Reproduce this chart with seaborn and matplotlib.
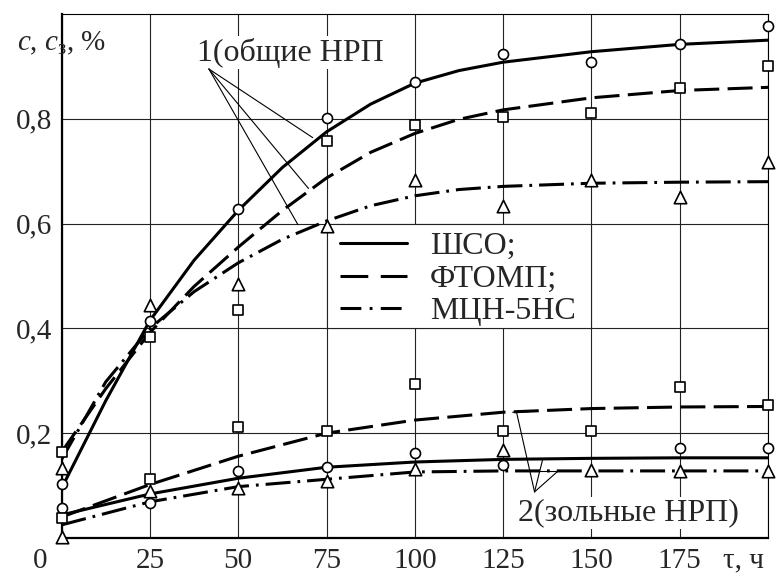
import matplotlib
matplotlib.use("Agg")
import matplotlib.pyplot as plt
import matplotlib.transforms as mtransforms
from matplotlib.lines import Line2D
from matplotlib.patches import Rectangle
import seaborn as sns

# time, h
t_pts = [0, 25, 50, 75, 100, 125, 150, 175, 200]
t_fit1 = [0, 12.5, 25, 37.5, 50, 62.5, 75, 87.5, 100, 112.5, 125, 150, 175, 200]
t_fit2 = [0, 25, 50, 75, 100, 125, 150, 175, 200]

# 1 - total NRP (measured points)
sho_1 = [0.103, 0.415, 0.628, 0.802, 0.870, 0.924, 0.909, 0.943, 0.977]
ftomp_1 = [0.164, 0.383, 0.436, 0.758, 0.789, 0.804, 0.811, 0.859, 0.901]
mcn_1 = [0.133, 0.444, 0.484, 0.596, 0.684, 0.634, 0.684, 0.650, 0.718]

# 1 - fitted curves
sho_1_fit = [0.095, 0.262, 0.415, 0.530, 0.625, 0.707, 0.775, 0.828, 0.868, 0.892, 0.908, 0.928, 0.942, 0.950]
ftomp_1_fit = [0.164, 0.285, 0.392, 0.480, 0.555, 0.625, 0.687, 0.736, 0.772, 0.799, 0.817, 0.840, 0.854, 0.860]
mcn_1_fit = [0.150, 0.298, 0.400, 0.470, 0.525, 0.570, 0.605, 0.634, 0.653, 0.665, 0.671, 0.677, 0.679, 0.680]

# 2 - ash NRP (measured points)
sho_2 = [0.057, 0.067, 0.128, 0.135, 0.162, 0.139, None, 0.171, 0.171]
ftomp_2 = [0.038, 0.112, 0.211, 0.204, 0.293, 0.204, 0.204, 0.288, 0.253]
mcn_2 = [0.002, 0.089, 0.095, 0.109, 0.131, 0.168, 0.130, 0.128, 0.128]

# 2 - fitted curves
sho_2_fit = [0.044, 0.084, 0.114, 0.135, 0.145, 0.150, 0.152, 0.153, 0.153]
ftomp_2_fit = [0.040, 0.102, 0.156, 0.200, 0.225, 0.240, 0.247, 0.250, 0.251]
mcn_2_fit = [0.025, 0.069, 0.098, 0.112, 0.126, 0.128, 0.128, 0.128, 0.128]

names = ["ШСО;", "ФТОМП;", "МЦН-5НС"]
x_ticks = [0, 25, 50, 75, 100, 125, 150, 175, 200]
x_labels = ["0", "25", "50", "75", "100", "125", "150", "175", "τ, ч"]
y_labels = ["0,2", "0,4", "0,6", "0,8"]

sns.set_theme(style="white")
plt.rcParams["font.family"] = ["Liberation Serif", "DejaVu Serif"]
plt.rcParams["mathtext.fontset"] = "custom"
plt.rcParams["mathtext.rm"] = "Liberation Serif"
plt.rcParams["mathtext.it"] = "Liberation Serif:italic"
plt.rcParams["lines.scale_dashes"] = False

styles = ["-", (0, (18, 6)), (0, (18, 5, 2, 5))]
markers = [("o", 52), ("s", 58), ("^", 80)]

fig = plt.figure(figsize=(7.76, 5.73), dpi=100)
ax = fig.add_axes([0.0794, 0.0611, 0.9103, 0.9145])

curves = [
    (t_fit1, [sho_1_fit, ftomp_1_fit, mcn_1_fit]),
    (t_fit2, [sho_2_fit, ftomp_2_fit, mcn_2_fit]),
]
for tt, group in curves:
    for vals, ls in zip(group, styles):
        sns.lineplot(x=tt, y=vals, ax=ax, color="black", lw=2.2,
                     linestyle=ls, zorder=3, legend=False)

points = [[sho_1, ftomp_1, mcn_1], [sho_2, ftomp_2, mcn_2]]
for group in points:
    for vals, (m, s) in zip(group, markers):
        xs = [t for t, v in zip(t_pts, vals) if v is not None]
        ys = [v for v in vals if v is not None]
        sns.scatterplot(x=xs, y=ys, ax=ax, marker=m, s=s, color="white",
                        edgecolor="black", linewidth=1.2, clip_on=False,
                        zorder=5, legend=False)

ax.set_xlim(0, 200)
ax.set_ylim(0, 1)
ax.set_xticks(x_ticks)
ax.set_xticklabels(x_labels)
ax.set_yticks([0.2, 0.4, 0.6, 0.8])
ax.set_yticklabels(y_labels)
ax.tick_params(length=0, labelsize=21, pad=7)
ax.set_xlabel("")
ax.set_ylabel("")
ax.grid(True, color="#222222", lw=0.8)
ax.set_axisbelow(True)

# shift the origin label and the axis name like in the figure
xl = ax.get_xticklabels()
xl[0].set_transform(xl[0].get_transform() + mtransforms.ScaledTranslation(-0.216, 0, fig.dpi_scale_trans))
xl[-1].set_transform(xl[-1].get_transform() + mtransforms.ScaledTranslation(-0.25, 0, fig.dpi_scale_trans))

for side in ["top", "right"]:
    ax.spines[side].set_linewidth(0.8)
    ax.spines[side].set_color("black")
for side in ["left", "bottom"]:
    ax.spines[side].set_linewidth(1.6)
    ax.spines[side].set_color("black")

# legend cell
ax.add_patch(Rectangle((75, 0.4), 75, 0.2, facecolor="white",
                       edgecolor="#222222", lw=0.8, zorder=2))
handles = [Line2D([], [], color="black", lw=2.2, linestyle=ls) for ls in
           ["-", (0, (20, 9)), (0, (15, 6, 2, 6))]]
ax.legend(handles, names, loc="center left", bbox_to_anchor=(78.7, 0.494),
          bbox_transform=ax.transData, frameon=False, fontsize=23,
          handlelength=2.1, handletextpad=0.72, labelspacing=0.1,
          borderpad=0, borderaxespad=0)

# leader lines
for xe, ye in [(71.1, 0.764), (69.9, 0.667), (66.9, 0.598)]:
    ax.plot([41.7, xe], [0.895, ye], color="black", lw=0.8, zorder=4)
for xe, ye in [(128.8, 0.240), (136.2, 0.150), (140.6, 0.128)]:
    ax.plot([133.9, xe], [0.088, ye], color="black", lw=0.8, zorder=4)
ax.plot([127.7, 132.5], [0.240, 0.241], color="black", lw=0.8, zorder=4)
ax.plot([134.5, 140.6], [0.128, 0.128], color="black", lw=0.8, zorder=4)

box = dict(facecolor="white", edgecolor="none", pad=1)
ax.text(38.3, 0.926, "1(общие НРП", fontsize=23, ha="left", va="center",
        bbox=box, zorder=2.5)
ax.text(129.1, 0.048, "2(зольные НРП)", fontsize=23, ha="left", va="center",
        bbox=box, zorder=2.5)

fig.text(17 / 776, 1 - 43 / 573, r"$c$, $c_\mathrm{з}$, %", fontsize=21,
         ha="left", va="center")

fig.savefig("out.png", dpi=100)
